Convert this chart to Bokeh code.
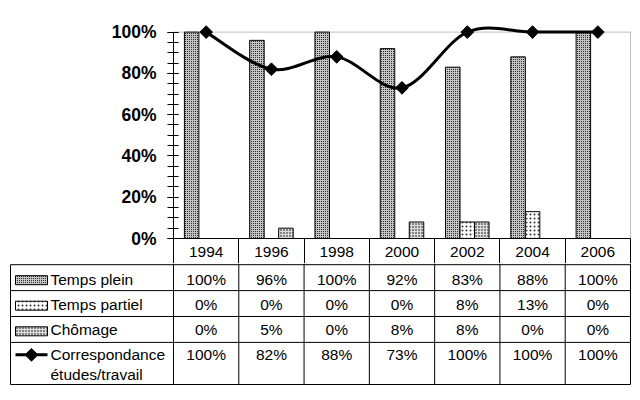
import numpy as np
from bokeh.plotting import figure
from bokeh.models import Range1d, FixedTicker, NumeralTickFormatter
from bokeh.layouts import column
from bokeh.embed import file_html
from bokeh.resources import INLINE
from bokeh.core.properties import value

# ---------------- data ----------------
years = ["1994", "1996", "1998", "2000", "2002", "2004", "2006"]
temps_plein = [1.00, 0.96, 1.00, 0.92, 0.83, 0.88, 1.00]
temps_partiel = [0.00, 0.00, 0.00, 0.00, 0.08, 0.13, 0.00]
chomage = [0.00, 0.05, 0.00, 0.08, 0.08, 0.00, 0.00]
correspondance = [1.00, 0.82, 0.88, 0.73, 1.00, 1.00, 1.00]
series_names = ["Temps plein", "Temps partiel", "Chômage", "Correspondance", "études/travail"]
y_ticks = [0.0, 0.2, 0.4, 0.6, 0.8, 1.0]
y_minor = [i * 0.05 for i in range(21)]

# ---------------- layout (page pixels) ----------------
FONT = value("Liberation Sans")
PAGE_W = 640
X_AXIS_PX = 173.0          # y axis / first column boundary
X_RIGHT_PX = 630.0         # plot right edge
FRAME_R_PX = 632.0
NCOL = len(years)
COL_W = (X_RIGHT_PX - X_AXIS_PX) / NCOL
Y0_PX, Y1_PX = 238.0, 31.6  # 0% and 100%
UNIT_Y = Y0_PX - Y1_PX
FRAME_A_TOP, SPLIT, PAGE_H = 21, 263, 400

def px_to_x(px):
    return (px - X_AXIS_PX) / COL_W

centers = np.arange(NCOL) + 0.5
bar_w = 14.5 / COL_W
x_end = px_to_x(FRAME_R_PX)
y_end = (Y0_PX - FRAME_A_TOP) / UNIT_Y

# ---------------- chart figure ----------------
pa = figure(width=PAGE_W, height=SPLIT, output_backend="svg",
            toolbar_location=None, frame_align=False,
            x_range=Range1d(0, x_end), y_range=Range1d(0, y_end),
            min_border_left=int(X_AXIS_PX), min_border_right=int(PAGE_W - FRAME_R_PX),
            min_border_top=FRAME_A_TOP, min_border_bottom=int(SPLIT - Y0_PX))
pa.outline_line_color = None
pa.xgrid.visible = False
pa.ygrid.visible = False

ax = pa.yaxis[0]
ax.ticker = FixedTicker(ticks=y_ticks, minor_ticks=y_minor)
ax.formatter = NumeralTickFormatter(format="0%")
ax.bounds = (0, 1.0)
ax.major_label_text_font = "Liberation Sans"
ax.major_label_text_font_style = "bold"
ax.major_label_text_font_size = "17.5px"
ax.major_label_text_color = "black"
ax.major_label_standoff = 11
ax.major_tick_in = 5
ax.major_tick_out = 6
ax.minor_tick_in = 5
ax.minor_tick_out = 6
ax.axis_line_color = "black"
ax.major_tick_line_color = "black"
ax.minor_tick_line_color = "black"

# x axis: years as labels, minor ticks draw the header-row cell borders
xa = pa.xaxis[0]
xa.ticker = FixedTicker(ticks=list(centers), minor_ticks=list(range(NCOL + 1)))
xa.major_label_overrides = {float(c): y for c, y in zip(centers, years)}
xa.bounds = (0, NCOL)
xa.major_tick_in = 0
xa.major_tick_out = 0
xa.minor_tick_in = 0
xa.minor_tick_out = int(SPLIT - Y0_PX)
xa.minor_tick_line_color = "black"
xa.axis_line_color = "black"
xa.major_label_standoff = -17
xa.major_label_text_font = "Liberation Sans"
xa.major_label_text_font_size = "15.5px"
xa.major_label_text_color = "black"

# plot-area border (gray dotted top and right)
pa.segment(x0=[0], y0=[1.0], x1=[NCOL], y1=[1.0], line_color="#808080", line_dash="1 1", line_width=1)
pa.segment(x0=[NCOL], y0=[0], x1=[NCOL], y1=[1.0], line_color="#808080", line_dash="1 1", line_width=1)

bar_styles = [
    dict(fill_color="#c4c4c4", hatch_pattern="dot", hatch_scale=2.0, hatch_weight=1.0),
    dict(fill_color="white", hatch_pattern="dot", hatch_scale=4.0, hatch_weight=1.0, hatch_alpha=0.8),
    dict(fill_color="#dcdcdc", hatch_pattern="dot", hatch_scale=3.0, hatch_weight=1.0),
]
for k, vals in enumerate([temps_plein, temps_partiel, chomage]):
    xs = centers + (k - 1) * bar_w
    pa.vbar(x=xs, top=vals, bottom=0, width=bar_w,
            line_color="black", line_width=1, hatch_color="black", **bar_styles[k])

# smoothed line (Bezier segments, Excel-style smoothing)
ys = np.array(correspondance)
n = NCOL
x0s, y0s, x1s, y1s, cx0, cy0, cx1, cy1 = [], [], [], [], [], [], [], []
for i in range(n - 1):
    a, b = max(i - 1, 0), min(i + 2, n - 1)
    x0s.append(centers[i]); y0s.append(ys[i])
    x1s.append(centers[i + 1]); y1s.append(ys[i + 1])
    cx0.append(centers[i] + (centers[i + 1] - centers[a]) / 6)
    cy0.append(ys[i] + (ys[i + 1] - ys[a]) / 6)
    cx1.append(centers[i + 1] - (centers[b] - centers[i]) / 6)
    cy1.append(ys[i + 1] - (ys[b] - ys[i]) / 6)
pa.bezier(x0=x0s, y0=y0s, x1=x1s, y1=y1s, cx0=cx0, cy0=cy0, cx1=cx1, cy1=cy1,
          line_color="black", line_width=3, line_cap="round")
pa.scatter(centers, ys, marker="square", angle=np.pi / 4, size=9,
           fill_color="black", line_color="black")

# ---------------- table figure ----------------
pb = figure(width=PAGE_W, height=PAGE_H - SPLIT, output_backend="svg",
            toolbar_location=None, frame_align=False,
            x_axis_location=None, y_axis_location=None,
            x_range=Range1d(px_to_x(0), x_end), y_range=Range1d(PAGE_H, SPLIT),
            min_border_left=0, min_border_right=int(PAGE_W - FRAME_R_PX),
            min_border_top=0, min_border_bottom=0)
pb.outline_line_color = None
pb.xgrid.visible = False
pb.ygrid.visible = False

tab_left = px_to_x(10)
row_lines = [264.2, 290.1, 316.0, 341.9, 384.0]
pb.segment(x0=[tab_left] * len(row_lines), y0=row_lines, x1=[NCOL] * len(row_lines), y1=row_lines,
           line_color="black", line_width=1)
pb.segment(x0=[tab_left], y0=[row_lines[0]], x1=[tab_left], y1=[row_lines[-1]], line_color="black", line_width=1)
vb = np.arange(0, NCOL + 1)
pb.segment(x0=vb, y0=[SPLIT] * len(vb), x1=vb, y1=[row_lines[-1]] * len(vb), line_color="black", line_width=1)

text_mid = [279.0, 304.0, 329.0, 354.0]
label_x = px_to_x(50)
pb.text(x=[label_x] * 5, y=text_mid + [374.0], text=series_names, text_align="left",
        text_baseline="middle", text_font=FONT, text_font_size=value("15.5px"), text_color="black")

key_l, key_r = px_to_x(15), px_to_x(47)
key_centers = [279.7, 305.2, 330.8]
for k in range(3):
    pb.quad(left=[key_l], right=[key_r], top=[key_centers[k] - 4.5], bottom=[key_centers[k] + 4.5],
            line_color="black", line_width=1, hatch_color="black", **bar_styles[k])
pb.segment(x0=[key_l], y0=[354.3], x1=[key_r], y1=[354.3], line_color="black", line_width=3)
pb.scatter([px_to_x(31)], [354.3], marker="square", angle=np.pi / 4, size=9,
           fill_color="black", line_color="black")

for k, vals in enumerate([temps_plein, temps_partiel, chomage, correspondance]):
    pb.text(x=centers, y=[text_mid[k]] * NCOL, text=[f"{round(v * 100)}%" for v in vals],
            text_align="center", text_baseline="middle", text_font=FONT,
            text_font_size=value("15.5px"), text_color="black")

layout = column(pa, pb, spacing=0)
open("out.html", "w").write(file_html(layout, INLINE))
